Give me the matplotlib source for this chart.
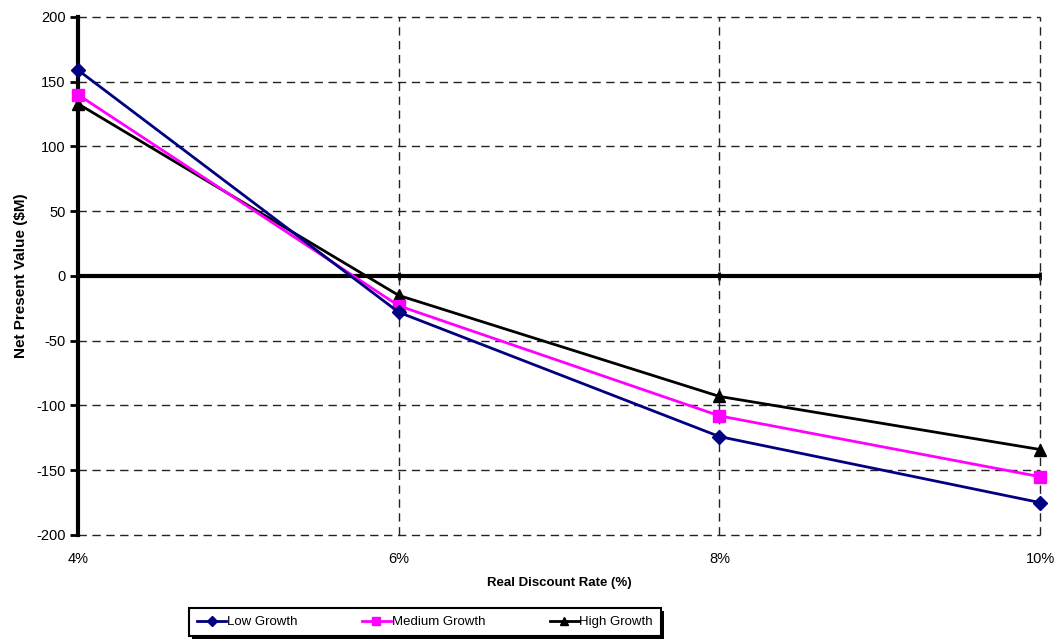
import matplotlib.pyplot as plt
from matplotlib.patches import Rectangle

plt.rcParams['font.family'] = ['Liberation Sans', 'DejaVu Sans']
plt.rcParams['axes.unicode_minus'] = False

# NPV ($M) by real discount rate for each growth scenario
rates = [4, 6, 8, 10]
rate_labels = ["4%", "6%", "8%", "10%"]
low_growth = [159, -28, -124, -175]
medium_growth = [140, -23, -108, -155]
high_growth = [133, -15, -93, -134]

fig = plt.figure(figsize=(10.57, 6.39), dpi=100)
ax = fig.add_axes([0.0738, 0.1628, 0.9102, 0.8106])

ax.plot(rates, low_growth, color='#000080', lw=2, marker='D', ms=7, label='Low Growth', clip_on=False, zorder=5)
ax.plot(rates, medium_growth, color='#FF00FF', lw=2, marker='s', ms=8.5, label='Medium Growth', clip_on=False, zorder=4)
ax.plot(rates, high_growth, color='black', lw=2, marker='^', ms=8.5, label='High Growth', clip_on=False, zorder=3)

ax.set_xlim(4, 10)
ax.set_ylim(-200, 200)
ax.set_xticks(rates)
ax.set_xticklabels(rate_labels)
ax.set_yticks(range(-200, 201, 50))

# dashed grid, including the frame edges
dash = (0, (6, 4))
for y in range(-200, 201, 50):
    if y != 0:
        ax.axhline(y, color='#222222', ls=dash, lw=1, clip_on=False, zorder=1)
for x in rates[1:]:
    ax.axvline(x, color='#222222', ls=dash, lw=1, clip_on=False, zorder=1)

for side in ['top', 'right', 'bottom']:
    ax.spines[side].set_visible(False)
ax.spines['left'].set_linewidth(3)
ax.tick_params(axis='y', labelsize=10.5, length=6, width=2, direction='out', pad=3)
ax.tick_params(axis='x', labelsize=10.5, length=0, pad=12)

# category axis crosses at zero
ax.axhline(0, color='black', lw=3, zorder=2)
zero_axis = ax.secondary_xaxis(0.5)
zero_axis.set_xticks(rates)
zero_axis.set_xticklabels([])
zero_axis.tick_params(length=6, width=2, direction='inout', color='black')

ax.set_xlabel('Real Discount Rate (%)', fontsize=9.5, fontweight='bold', labelpad=8)
ax.set_ylabel('Net Present Value ($M)', fontsize=11, fontweight='bold', labelpad=6)

leg = fig.legend(loc='center', bbox_to_anchor=(425 / 1057, 1 - 622 / 639),
                 ncol=3, fontsize=9.5, frameon=True, fancybox=False, framealpha=1,
                 handlelength=2.2, handletextpad=0.05, columnspacing=4.9,
                 borderpad=0.6, borderaxespad=0, markerscale=0.75)
leg.get_frame().set_edgecolor('black')
leg.get_frame().set_linewidth(1.5)
leg.set_zorder(10)

# drop shadow on the legend box
fig.canvas.draw()
bb = leg.get_window_extent().transformed(fig.transFigure.inverted())
fig.patches.append(Rectangle((bb.x0 + 3 / 1057, bb.y0 - 3 / 639), bb.width, bb.height,
                             transform=fig.transFigure, facecolor='black', zorder=1))

fig.savefig('out.png', dpi=100)
